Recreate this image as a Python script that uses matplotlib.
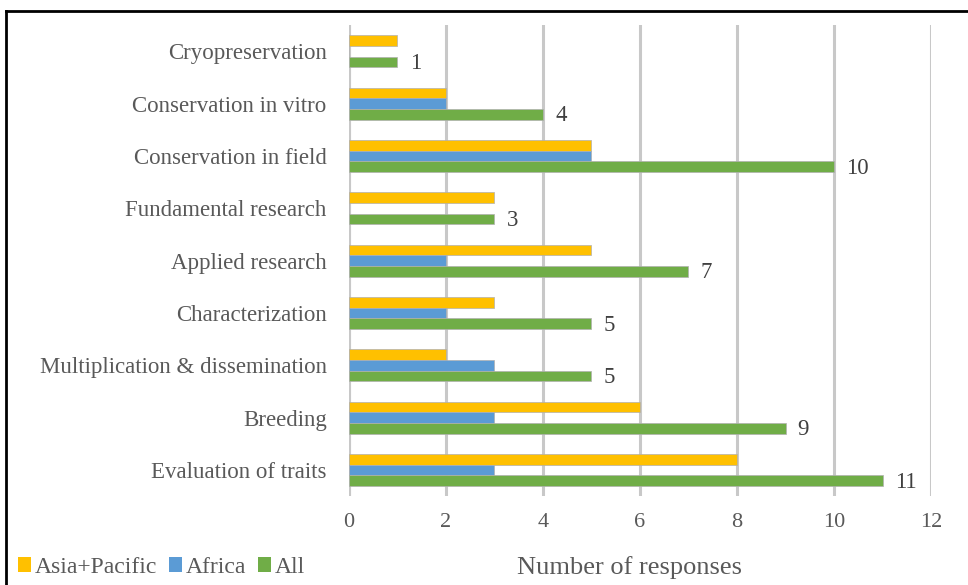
import matplotlib
matplotlib.use("Agg")
import matplotlib.pyplot as plt
import numpy as np
from matplotlib.lines import Line2D
from matplotlib.patches import Patch

categories = [
    "Cryopreservation",
    "Conservation in vitro",
    "Conservation in field",
    "Fundamental research",
    "Applied research",
    "Characterization",
    "Multiplication & dissemination",
    "Breeding",
    "Evaluation of traits",
]
asia_pacific = [1, 2, 5, 3, 5, 3, 2, 6, 8]
africa = [0, 2, 5, 0, 2, 2, 3, 3, 3]
all_regions = [1, 4, 10, 3, 7, 5, 5, 9, 11]

series_names = ["Asia+Pacific", "Africa", "All"]
colors = ["#FFC000", "#5B9BD5", "#70AD47"]

plt.rcParams["font.family"] = ["Liberation Serif", "DejaVu Serif"]

fig = plt.figure(figsize=(9.68, 5.85), dpi=100)
ax = fig.add_axes([0.3605, 0.152, 0.6013, 0.805])

y = np.arange(len(categories))
h = 0.205
for off, vals, col in zip([-h, 0, h], [asia_pacific, africa, all_regions], colors):
    ax.barh(y + off, vals, height=h, color=col, edgecolor="#b0b0b0", linewidth=0.5, zorder=3)

# value labels only on the "All" bars
for yi, v in zip(y, all_regions):
    ax.text(v + 0.25, yi + h + 0.03, str(v), va="center", ha="left", fontsize=16.5, color="#404040")

ax.set_ylim(len(categories) - 0.5, -0.5)
ax.set_xlim(0, 12)
ax.set_xticks(range(0, 13, 2))
ax.set_yticks(y)
ax.set_yticklabels(categories, fontsize=16.5, color="#595959")
ax.tick_params(axis="x", labelsize=16, colors="#595959", length=0, pad=12)
ax.tick_params(axis="y", length=0, pad=16)
ax.grid(axis="x", color="#c8c8c8", linewidth=2.2, zorder=0)
for s in ax.spines.values():
    s.set_visible(False)
ax.axvline(0, color="#c8c8c8", linewidth=2.2, zorder=1)

fig.text(0.65, 0.03, "Number of responses", ha="center", va="center", fontsize=19, color="#595959")

handles = [Patch(facecolor=c, edgecolor="none") for c in colors]
fig.legend(handles, series_names, loc="center left", bbox_to_anchor=(-0.003, 0.03), ncol=3,
           frameon=False, fontsize=17, handlelength=0.55, handleheight=0.55,
           handletextpad=0.15, columnspacing=0.5, labelcolor="#595959")

fig.add_artist(Line2D([0.006, 1.0], [0.981, 0.981], color="black", linewidth=2, transform=fig.transFigure))
fig.add_artist(Line2D([0.006, 0.006], [0.0, 0.981], color="black", linewidth=2, transform=fig.transFigure))

fig.savefig("out.png", dpi=100)
